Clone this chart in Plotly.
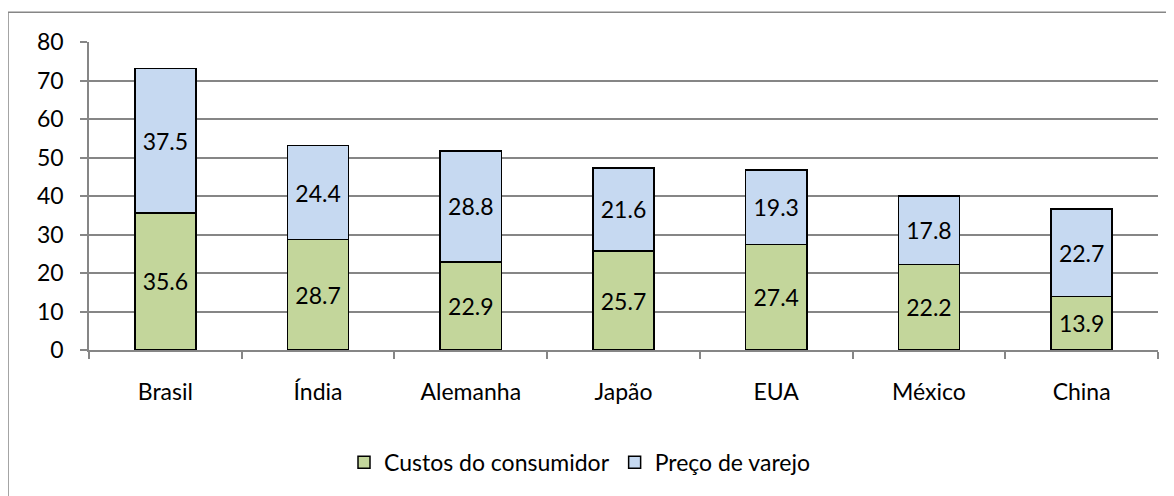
import plotly.graph_objects as go

categories = ["Brasil", "Índia", "Alemanha", "Japão", "EUA", "México", "China"]
custos_consumidor = [35.6, 28.7, 22.9, 25.7, 27.4, 22.2, 13.9]
preco_varejo = [37.5, 24.4, 28.8, 21.6, 19.3, 17.8, 22.7]
y_ticks = [0, 10, 20, 30, 40, 50, 60, 70, 80]

FONT = "Lato, 'Liberation Sans', sans-serif"
FS = 23
GRID = "#868686"

OFF = 8  # page body margin
W, H = 1174 - OFF, 496 - OFF
L, R, T, B = 89 - OFF, 1158 - OFF, 42 - OFF, 352 - OFF

fig = go.Figure()
fig.add_trace(go.Bar(
    x=categories, y=custos_consumidor, name="Custos do consumidor",
    marker=dict(color="#C3D69B", line=dict(color="black", width=1.5)),
    texttemplate="%{y:.1f}", textposition="inside", insidetextanchor="middle",
    textangle=0, textfont=dict(size=FS, color="black", family=FONT),
))
fig.add_trace(go.Bar(
    x=categories, y=preco_varejo, name="Preço de varejo",
    marker=dict(color="#C6D9F1", line=dict(color="black", width=1.5)),
    texttemplate="%{y:.1f}", textposition="inside", insidetextanchor="middle",
    textangle=0, textfont=dict(size=FS, color="black", family=FONT),
))

pw, ph = R - L, B - T
fig.update_layout(
    width=W, height=H,
    barmode="stack", bargap=0.6,
    margin=dict(l=L, r=W - R, t=T, b=H - B, pad=0),
    paper_bgcolor="white", plot_bgcolor="white",
    font=dict(family=FONT, size=FS, color="black"),
    showlegend=True,
    legend=dict(orientation="h", x=(580 - OFF - L) / pw, xanchor="center",
                y=(B - (465 - OFF)) / ph, yanchor="middle",
                font=dict(size=FS), itemwidth=30, traceorder="normal",
                tracegroupgap=0),
    xaxis=dict(showgrid=False, showline=True, linecolor=GRID, linewidth=1.5,
               ticks="outside", ticklen=7, tickcolor=GRID, tickwidth=1.5,
               tickson="boundaries", ticklabelstandoff=21,
               tickfont=dict(size=FS)),
    yaxis=dict(range=[0, 80], tickvals=y_ticks, showgrid=True,
               gridcolor=GRID, gridwidth=1.5, showline=True, linecolor=GRID,
               linewidth=1.5, ticks="outside", ticklen=7, tickcolor=GRID,
               tickwidth=1.5, ticklabelstandoff=12, zeroline=False,
               tickfont=dict(size=FS)),
    shapes=[dict(type="rect", xref="paper", yref="paper",
                 x0=(8 - OFF - L) / pw, x1=(1200 - L) / pw,
                 y0=(B - 520) / ph, y1=(B - (12 - OFF)) / ph,
                 line=dict(color=GRID, width=1.5), fillcolor="rgba(0,0,0,0)",
                 layer="below")],
)

fig.write_html("out.html")
